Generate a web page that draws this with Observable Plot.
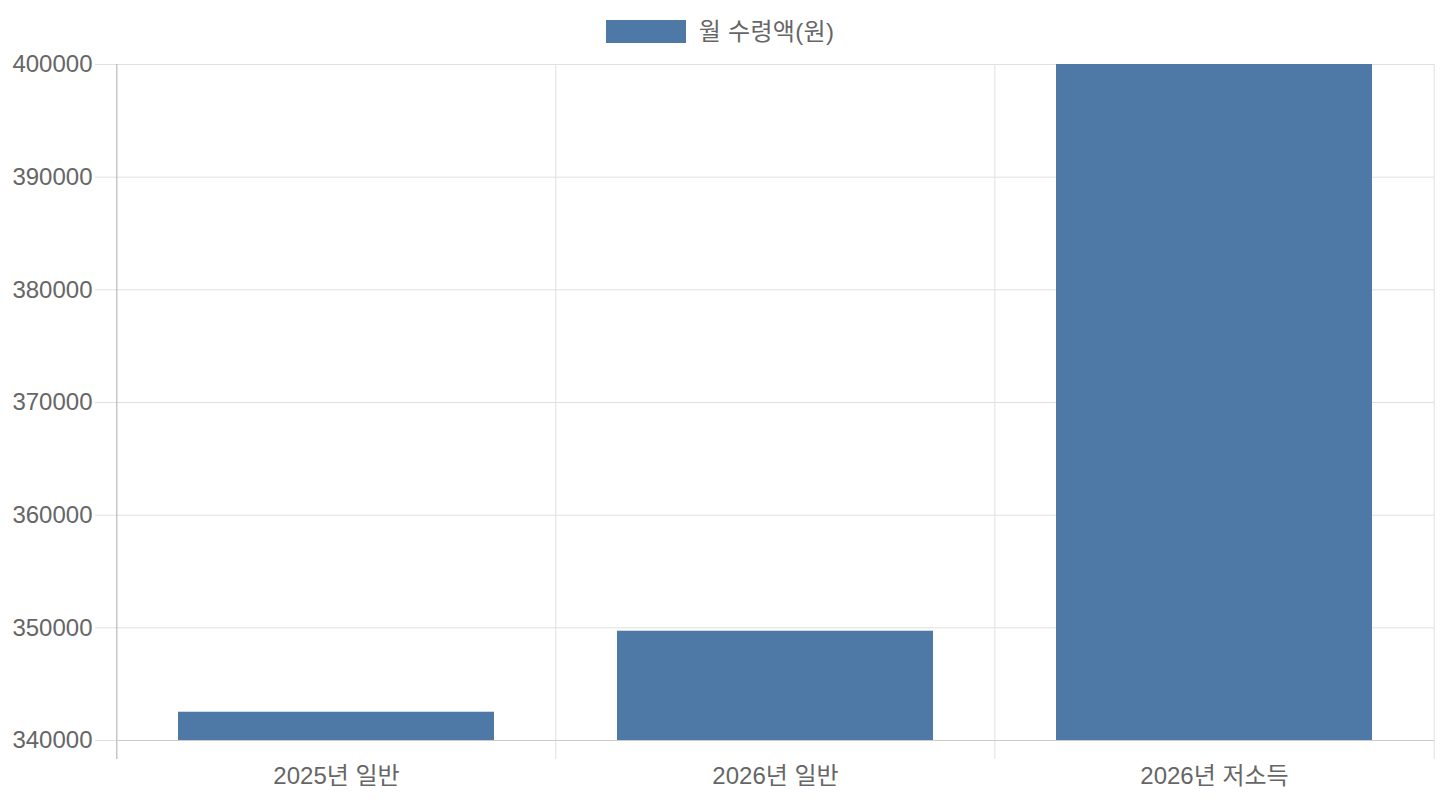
<!DOCTYPE html>
<html>
<head>
<meta charset="utf-8">
<script src="https://cdn.jsdelivr.net/npm/d3@7"></script>
<script src="https://cdn.jsdelivr.net/npm/@observablehq/plot@0.6"></script>
<style>
  html, body { margin: 0; padding: 0; background: #fff; }
  body { width: 1440px; height: 800px; overflow: hidden; font-family: 'Liberation Sans', 'Noto Sans CJK KR', sans-serif; }
  #legend { height: 44px; display: flex; justify-content: center; align-items: flex-start; }
  #legend .item { display: flex; align-items: center; margin-top: 20px; height: 23px; }
  #legend .swatch { width: 80px; height: 23px; background: #4e79a7; margin-right: 13px; }
  #legend .label { font-size: 24px; color: #666; line-height: 23px; letter-spacing: 0.3px; }
  #chart svg { display: block; overflow: visible; }
</style>
</head>
<body>
<div id="legend"><div class="item"><div class="swatch"></div><div class="label" id="legend-label"></div></div></div>
<div id="chart"></div>
<script>
const categories = ["2025년 일반", "2026년 일반", "2026년 저소득"];
const values = [342510, 349700, 400000];
const seriesName = "월 수령액(원)";
const yMin = 340000;
const yMax = 400000;
const yTicks = [340000, 350000, 360000, 370000, 380000, 390000, 400000];

document.getElementById("legend-label").textContent = seriesName;

const data = categories.map((c, i) => ({category: c, value: values[i]}));

const W = 1440, H = 756;
const mL = 116, mR = 6, mT = 20, mB = 60;
const step = (W - mL - mR) / categories.length;

const chart = Plot.plot({
  width: W,
  height: H,
  marginLeft: mL,
  marginRight: mR,
  marginTop: mT,
  marginBottom: mB,
  style: {fontFamily: "'Liberation Sans', 'Noto Sans CJK KR', sans-serif", fontSize: "24px", color: "#666", background: "#fff"},
  x: {type: "band", domain: categories, paddingInner: 0.28, paddingOuter: 0.14, align: 0.5},
  y: {domain: [yMin, yMax]},
  marks: [
    Plot.gridY(yTicks, {stroke: "#e0e0e0", strokeOpacity: 1}),
    Plot.ruleX(categories.slice(1), {x: d => d, dx: -step / 2, stroke: "#e0e0e0", insetBottom: -19}),
    Plot.ruleX(categories.slice(-1), {x: d => d, dx: step / 2, stroke: "#e0e0e0", insetBottom: -19}),
    Plot.barY(data, {x: "category", y1: yMin, y2: "value", fill: "#4e79a7"}),
    Plot.ruleX(categories.slice(0, 1), {x: d => d, dx: -step / 2, stroke: "#aaaaaa", insetBottom: -19}),
    Plot.ruleY([yMin], {stroke: "#cccccc"}),
    Plot.axisY(yTicks, {tickSize: 21, tickPadding: 3, stroke: "#e0e0e0", fill: "#666", fontSize: 24, tickFormat: d => String(d), label: null}),
    Plot.axisX({tickSize: 0, tickPadding: 26, fill: "#666", fontSize: 24, label: null})
  ]
});
document.getElementById("chart").appendChild(chart);
</script>
</body>
</html>
